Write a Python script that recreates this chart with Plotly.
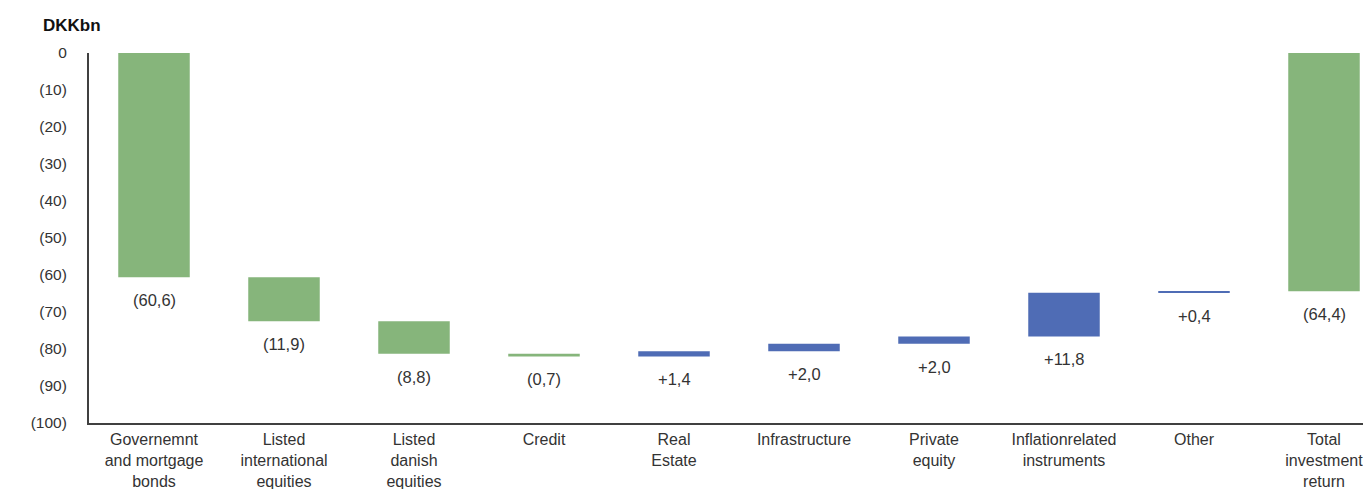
import plotly.graph_objects as go

# Return contributions by asset class, DKK bn
categories = [
    "Governemnt<br>and mortgage<br>bonds",
    "Listed<br>international<br>equities",
    "Listed<br>danish<br>equities",
    "Credit",
    "Real<br>Estate",
    "Infrastructure",
    "Private<br>equity",
    "Inflationrelated<br>instruments",
    "Other",
    "Total<br>investment<br>return",
]
values = [-60.6, -11.9, -8.8, -0.7, 1.4, 2.0, 2.0, 11.8, 0.4, -64.4]
measures = ["relative"] * 9 + ["total"]
y_ticks = [0, -10, -20, -30, -40, -50, -60, -70, -80, -90, -100]
y_tick_text = ["0"] + [f"({abs(v)})" for v in y_ticks[1:]]

GREEN = "#86B57B"
BLUE = "#4F6CB5"
TEXT = "#333333"
AXIS = "#404040"
FONT = "Liberation Sans, Arial"


def fmt(v):
    s = f"{abs(v):.1f}".replace(".", ",")
    return f"({s})" if v < 0 else f"+{s}"


fig = go.Figure(
    go.Waterfall(
        x=list(range(len(categories))),
        y=values,
        measure=measures,
        width=0.55,
        textposition="none",
        connector=dict(visible=False),
        decreasing=dict(marker=dict(color=GREEN, line=dict(width=0))),
        increasing=dict(marker=dict(color=BLUE, line=dict(width=0))),
        totals=dict(marker=dict(color=GREEN, line=dict(width=0))),
        hoverinfo="skip",
    )
)

# value labels placed under the lower edge of each bar
annotations = []
level = 0.0
for i, (v, m) in enumerate(zip(values, measures)):
    if m == "total":
        start, end = 0.0, v
    else:
        start, end = level, level + v
        level = end
    annotations.append(
        dict(
            x=i, y=min(start, end), xref="x", yref="y",
            text=fmt(v), showarrow=False,
            yanchor="middle", yshift=-23,
            font=dict(family=FONT, size=16.5, color=TEXT),
        )
    )

annotations.append(
    dict(
        x=-48 / 1274, y=(423 - 25) / 370, xref="paper", yref="paper",
        text="<b>DKKbn</b>", showarrow=False, xanchor="left", yanchor="middle",
        font=dict(family=FONT, size=17, color="#111111"),
    )
)

fig.update_layout(
    width=1363,
    height=489,
    margin=dict(l=89, r=0, t=53, b=66, autoexpand=False),
    paper_bgcolor="white",
    plot_bgcolor="white",
    showlegend=False,
    annotations=annotations,
    xaxis=dict(
        range=[-0.5, 9.3],
        automargin=False,
        tickmode="array",
        tickvals=list(range(len(categories))),
        ticktext=categories,
        tickangle=0,
        showgrid=False,
        zeroline=False,
        showline=True,
        linecolor=AXIS,
        linewidth=2,
        ticks="",
        ticklabelstandoff=1,
        ticklabeloverflow="allow",
        tickfont=dict(family=FONT, size=16, color=TEXT),
    ),
    yaxis=dict(
        range=[-100, 0],
        automargin=False,
        tickmode="array",
        tickvals=y_ticks,
        ticktext=y_tick_text,
        showgrid=False,
        zeroline=False,
        showline=True,
        linecolor=AXIS,
        linewidth=2,
        ticks="",
        ticklabelstandoff=17,
        tickfont=dict(family=FONT, size=15.5, color=TEXT),
    ),
)

fig.write_html("out.html")
